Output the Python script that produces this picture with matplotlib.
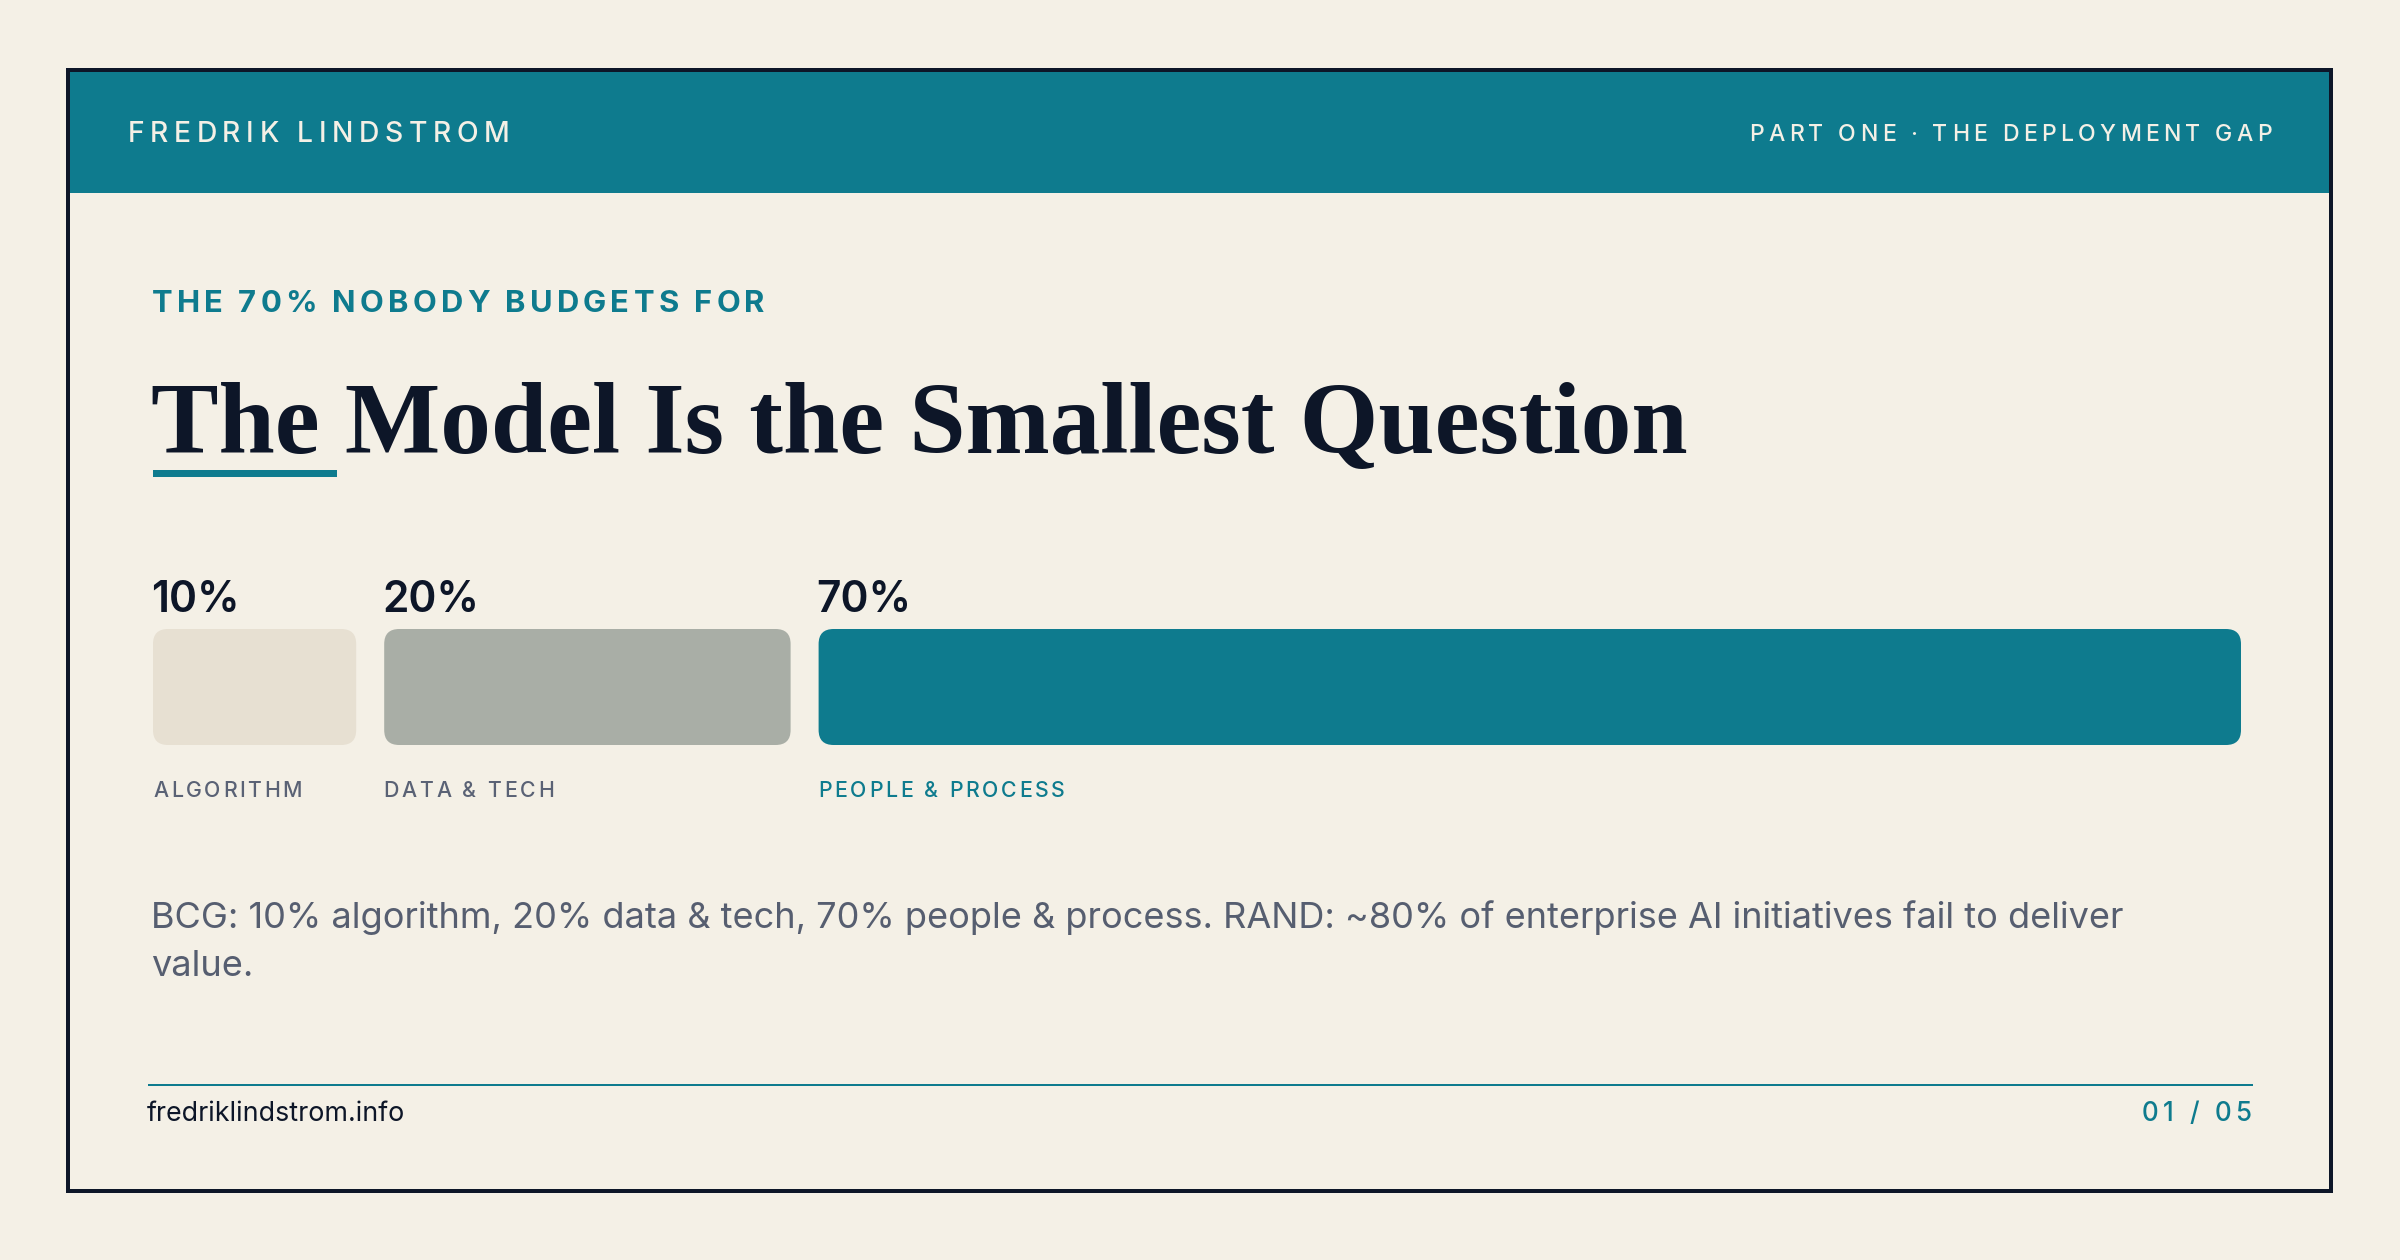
import matplotlib
matplotlib.use("Agg")
import matplotlib.pyplot as plt
from matplotlib.patches import FancyBboxPatch, Rectangle
from matplotlib.font_manager import FontProperties, findfont
from matplotlib.ft2font import FT2Font

# ---------------- data ----------------
categories = ["ALGORITHM", "DATA & TECH", "PEOPLE & PROCESS"]
shares = [10, 20, 70]
value_labels = ["10%", "20%", "70%"]
bar_colors = ["#E7E0D2", "#A9AEA6", "#0E7B8E"]
label_colors = ["#5A6275", "#5A6275", "#0E7B8E"]

header_left = "FREDRIK LINDSTROM"
header_right = "PART ONE · THE DEPLOYMENT GAP"
kicker = "THE 70% NOBODY BUDGETS FOR"
title = "The Model Is the Smallest Question"
note_lines = [
    "BCG: 10% algorithm, 20% data & tech, 70% people & process. RAND: ~80% of enterprise AI initiatives fail to deliver",
    "value.",
]
footer_left = "fredriklindstrom.info"
footer_right = "01 / 05"

# ---------------- style ----------------
BG = "#F4F0E6"
TEAL = "#0E7B8E"
NAVY = "#0D1628"
GRAY = "#565E70"
SANS = "Inter"
SERIF = "Liberation Serif"
DPI = 100
W, H = 2400, 1260

fig = plt.figure(figsize=(W / DPI, H / DPI), dpi=DPI)
fig.patch.set_facecolor(BG)
ax = fig.add_axes([0, 0, 1, 1])
ax.set_xlim(0, W)
ax.set_ylim(H, 0)
ax.axis("off")
renderer = fig.canvas.get_renderer()


def fp_px(px, weight="normal", family=SANS):
    return FontProperties(family=family, weight=weight, size=px * 72.0 / DPI)


def ink_width(s, fp):
    w, h, d = renderer.get_text_width_height_descent(s, fp, ismath=False)
    return w


def fit_fp(s, target, weight="normal", family=SANS, px0=40):
    fp = fp_px(px0, weight, family)
    w = ink_width(s, fp)
    return fp_px(px0 * target / w, weight, family)


def glyph_metrics(s, fp):
    f = FT2Font(findfont(fp))
    f.set_size(fp.get_size_in_points(), DPI)
    out = []
    for c in s:
        g = f.load_char(ord(c))
        out.append((g.linearHoriAdvance / 65536.0, g.horiBearingX / 64.0, g.width / 64.0))
    return out


def tracked(x, y, s, fp, color, span, ha="left", zorder=5):
    """Letter-spaced text whose ink spans about `span` pixels from x (or to x)."""
    m = glyph_metrics(s, fp)
    n = len(s)
    pens = [0.0]
    for adv, _, _ in m[:-1]:
        pens.append(pens[-1] + adv)
    natural = pens[-1] + m[-1][1] + m[-1][2] - m[0][1]
    t = (span - natural) / max(n - 1, 1)
    x_left = x if ha == "left" else x - span
    for i, ch in enumerate(s):
        if ch == " ":
            continue
        xi = x_left - m[0][1] + pens[i] + t * i
        ax.text(xi, y, ch, fontproperties=fp, color=color, va="baseline",
                ha="left", zorder=zorder)


# ---------------- frame & header ----------------
FL, FR, FT, FB = 68, 2331, 70, 1191
ax.add_patch(Rectangle((FL, FT), FR - FL, 193 - FT, facecolor=TEAL, edgecolor="none", zorder=1))
ax.add_patch(Rectangle((FL, FT), FR - FL, FB - FT, facecolor="none", edgecolor=NAVY,
                       linewidth=4 * 72 / DPI, zorder=10))

tracked(130, 142, header_left, fp_px(28.3, "medium"), BG, span=377)
tracked(2271, 141, header_right, fp_px(23, "medium"), BG, span=520, ha="right")

# ---------------- kicker & title ----------------
tracked(153, 311.5, kicker, fp_px(31, "bold"), TEAL, span=611)

ax.text(151, 453, title, fontproperties=fit_fp(title, 1537, "bold", SERIF, 100),
        color=NAVY, va="baseline", ha="left", zorder=5)
ax.add_patch(Rectangle((153, 470), 184, 7, facecolor=TEAL, edgecolor="none", zorder=5))

# ---------------- bars ----------------
left, right, gap = 153, 2241, 28
bar_top, bar_h = 629, 116
usable = right - left - gap * (len(shares) - 1)
total = float(sum(shares))
label_spans = [146, 167, 244]
x = left
for i, (cat, v, lab) in enumerate(zip(categories, shares, value_labels)):
    w = usable * v / total
    ax.add_patch(FancyBboxPatch((x, bar_top), w, bar_h,
                                boxstyle="round,pad=0,rounding_size=15",
                                facecolor=bar_colors[i], edgecolor="none", zorder=3))
    ax.text(x - 2, 612, lab, fontproperties=fp_px(42.5, "semibold"), color=NAVY,
            va="baseline", ha="left", zorder=5)
    tracked(x + 1, 797, cat, fp_px(21.3, "medium"), label_colors[i], span=label_spans[i])
    x += w + gap

# ---------------- note ----------------
note_fp = fit_fp(note_lines[0], 1975, "normal", SANS, 34)
for k, line in enumerate(note_lines):
    ax.text(151, 928 + 48 * k, line, fontproperties=note_fp, color=GRAY,
            va="baseline", ha="left", zorder=5)

# ---------------- footer ----------------
ax.plot([148, 2253], [1085, 1085], color=TEAL, linewidth=2 * 72 / DPI, zorder=5,
        solid_capstyle="butt")
ax.text(147, 1121, footer_left, fontproperties=fit_fp(footer_left, 257, "normal", SANS, 25),
        color=NAVY, va="baseline", ha="left", zorder=5)
tracked(2250, 1121, footer_right, fp_px(26, "medium"), TEAL, span=107, ha="right")

fig.savefig("out.png", dpi=DPI, facecolor=BG)
